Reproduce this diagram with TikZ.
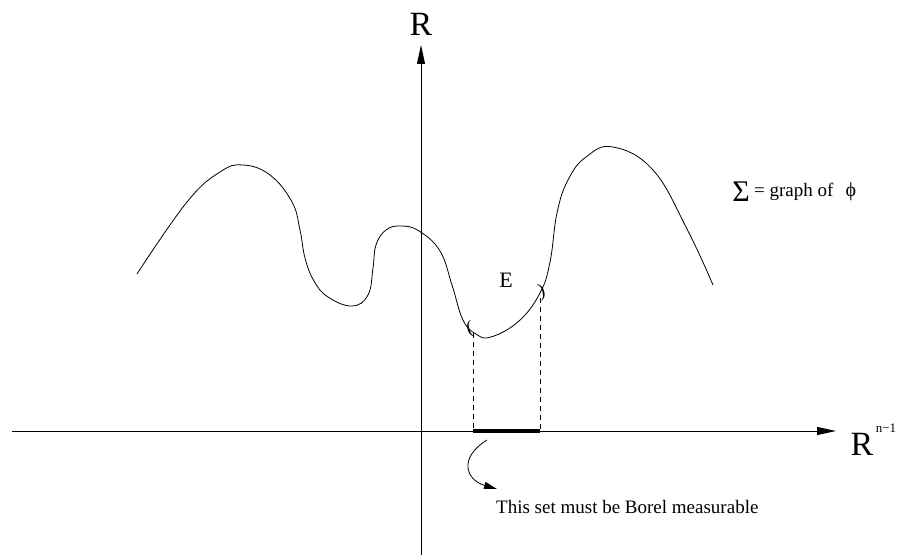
\documentclass[tikz,border=0pt]{standalone}
\usepackage{fontspec}
\setmainfont{Liberation Serif}
\usetikzlibrary{arrows.meta}
\begin{document}
\begin{tikzpicture}[x=1pt,y=-1pt,
  axis/.style={line width=1pt,-{Triangle[length=19pt,width=8pt]}},
  graphline/.style={line width=0.8pt},
  proj/.style={line width=0.8pt,dash pattern=on 5pt off 4pt},
  lbl/.style={inner sep=0pt,font=\fontsize{19}{21}\selectfont},
  biglbl/.style={inner sep=0pt,font=\fontsize{34}{36}\selectfont}]
\useasboundingbox (0,0) rectangle (898,556);
% axes
\coordinate (vb) at (421,555);
\coordinate (vt) at (421,45);
\coordinate (hl) at (12,431);
\coordinate (hr) at (836,431);
\draw[axis] (vb) -- (vt);
\draw[axis] (hl) -- (hr);
\node[biglbl] (R) at (421,24) {R};
\node[biglbl] (Rn) at (862,444) {R};
\node[inner sep=0pt,font=\fontsize{13}{14}\selectfont] (sup) at (886,428) {n−1};
% graph
\draw[graphline] plot[smooth,tension=0.7] coordinates {
 (137,274) (187,202) (220,172) (243,165) (270,175) (292,202) (300,230)
 (305,258) (314,281) (328,297) (352,306) (368,295) (373,268) (376,245)
 (386,230) (401,226) (419,231) (440,251) (452,285) (463,320) (476,334)
 (491,337) (519,321) (540,293) (550,262) (557,213) (568,180) (586,157)
 (613,147) (653,170) (687,229) (713,285)};
% parentheses
\node[inner sep=0pt,rotate=15,font=\fontsize{19}{20}\selectfont] (lp) at (470,329) {(};
\node[inner sep=0pt,rotate=15,font=\fontsize{19}{20}\selectfont] (rp) at (542,292) {)};
\node[inner sep=0pt,font=\fontsize{22}{24}\selectfont] (E) at (506,280) {E};
% projections
\coordinate (a1) at (473,333);
\coordinate (a0) at (473,431);
\coordinate (b1) at (540,298);
\coordinate (b0) at (540,431);
\draw[proj] (a1) -- (a0);
\draw[proj] (b1) -- (b0);
\draw[line width=4pt] (a0) -- (b0);
% annotation
\coordinate (s) at (487,440);
\node[lbl,anchor=west] (txt) at (496,507) {This set must be Borel measurable};
\coordinate (t) at (497,489);
\draw[line width=0.8pt,-{Triangle[length=13pt,width=7pt]}] (s) .. controls (458,458) and (466,480) .. (t);
% sigma label
\node[inner sep=0pt,font=\fontsize{30}{32}\selectfont] (sig) at (741,192) {Σ};
\node[lbl,anchor=west] (gr) at (754,192) {= graph of};
\node[inner sep=0pt,font=\fontsize{20}{22}\selectfont] (phi) at (851,192) {ϕ};
\end{tikzpicture}
\end{document}
